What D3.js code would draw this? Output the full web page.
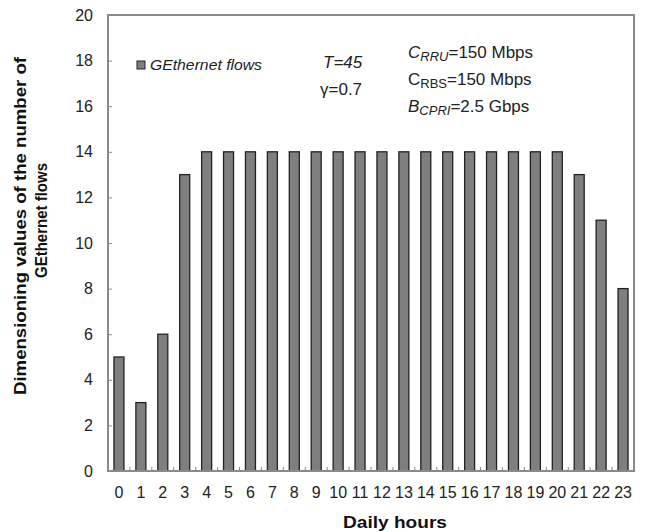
<!DOCTYPE html>
<html lang="en">
<head>
  <meta charset="UTF-8">
  <title>GEthernet flows</title>
  <script src="https://d3js.org/d3.v7.min.js"></script>
  <style>
    body { margin: 0; background: #fff; font-family: "Liberation Sans", Arial, sans-serif; }
    .tick text { font-size: 16px; fill: #222; }
    .axis-title { font-size: 16px; font-weight: bold; fill: #111; }
    .note { font-size: 17px; fill: #222; }
  </style>
</head>
<body>
<svg id="chart" width="649" height="532"></svg>
<script>
  const hours = d3.range(0, 24);
  const flows = [5, 3, 6, 13, 14, 14, 14, 14, 14, 14, 14, 14, 14, 14, 14, 14, 14, 14, 14, 14, 14, 13, 11, 8];
  const yTicks = [0, 2, 4, 6, 8, 10, 12, 14, 16, 18, 20];

  const svg = d3.select("#chart");
  const plotL = 108, plotR = 634, plotT = 15, plotB = 471;

  const x = d3.scaleBand().domain(hours).range([plotL, plotR]);
  const y = d3.scaleLinear().domain([0, 20]).range([plotB, plotT]);

  // bars
  svg.append("g").selectAll("rect")
    .data(hours)
    .enter().append("rect")
    .attr("x", d => x(d) + x.bandwidth() / 2 - 5)
    .attr("width", 10)
    .attr("y", d => y(flows[d]))
    .attr("height", d => y(0) - y(flows[d]))
    .attr("fill", "#7f7f7f")
    .attr("stroke", "#222")
    .attr("stroke-width", 1.3);

  // frame
  svg.append("rect")
    .attr("x", plotL).attr("y", plotT)
    .attr("width", plotR - plotL).attr("height", plotB - plotT)
    .attr("fill", "none").attr("stroke", "#8a8a8a").attr("stroke-width", 2);

  // y axis
  const yAxis = svg.append("g")
    .attr("transform", `translate(${plotL},0)`)
    .call(d3.axisLeft(y).tickValues(yTicks).tickSize(-4).tickPadding(15));
  yAxis.select(".domain").remove();
  yAxis.selectAll(".tick line").attr("stroke", "#8a8a8a");

  // x axis: labels centred, ticks at category boundaries
  const xAxis = svg.append("g")
    .attr("transform", `translate(0,${plotB})`)
    .call(d3.axisBottom(x).tickSize(0).tickPadding(16));
  xAxis.select(".domain").remove();
  svg.append("g").selectAll("line")
    .data(hours.slice(1))
    .enter().append("line")
    .attr("x1", d => x(d)).attr("x2", d => x(d))
    .attr("y1", plotB).attr("y2", plotB - 4)
    .attr("stroke", "#8a8a8a");

  // axis titles
  svg.append("text").attr("class", "axis-title")
    .attr("x", 343).attr("y", 528)
    .attr("textLength", 104).attr("lengthAdjust", "spacingAndGlyphs")
    .text("Daily hours");
  const yt = svg.append("text").attr("class", "axis-title")
    .attr("transform", "rotate(-90)");
  yt.append("tspan").attr("x", -395).attr("y", 26)
    .attr("textLength", 338).attr("lengthAdjust", "spacingAndGlyphs")
    .text("Dimensioning values of the number of");
  yt.append("tspan").attr("x", -278).attr("y", 47)
    .attr("textLength", 115).attr("lengthAdjust", "spacingAndGlyphs")
    .text("GEthernet flows");

  // legend
  svg.append("rect").attr("x", 137).attr("y", 61).attr("width", 8).attr("height", 8)
    .attr("fill", "#7f7f7f").attr("stroke", "#222");
  svg.append("text").attr("x", 150).attr("y", 70)
    .attr("font-size", 15).attr("font-style", "italic").attr("fill", "#222")
    .attr("textLength", 112).attr("lengthAdjust", "spacingAndGlyphs")
    .text("GEthernet flows");

  // parameter notes
  svg.append("text").attr("class", "note").attr("x", 323).attr("y", 68)
    .attr("font-style", "italic").text("T=45");
  svg.append("text").attr("class", "note").attr("x", 320).attr("y", 95).text("γ=0.7");

  const notes = [
    { base: "C", sub: "RRU", rest: "=150 Mbps", italic: true, yy: 58 },
    { base: "C", sub: "RBS", rest: "=150 Mbps", italic: false, yy: 85 },
    { base: "B", sub: "CPRI", rest: "=2.5 Gbps", italic: true, yy: 112 }
  ];
  notes.forEach(n => {
    const t = svg.append("text").attr("class", "note").attr("x", 408).attr("y", n.yy);
    t.append("tspan").attr("font-style", n.italic ? "italic" : "normal").text(n.base);
    t.append("tspan").attr("font-size", 13).attr("dy", 3)
      .attr("font-style", n.italic ? "italic" : "normal").text(n.sub);
    t.append("tspan").attr("dy", -3).text(n.rest);
  });
</script>
</body>
</html>
